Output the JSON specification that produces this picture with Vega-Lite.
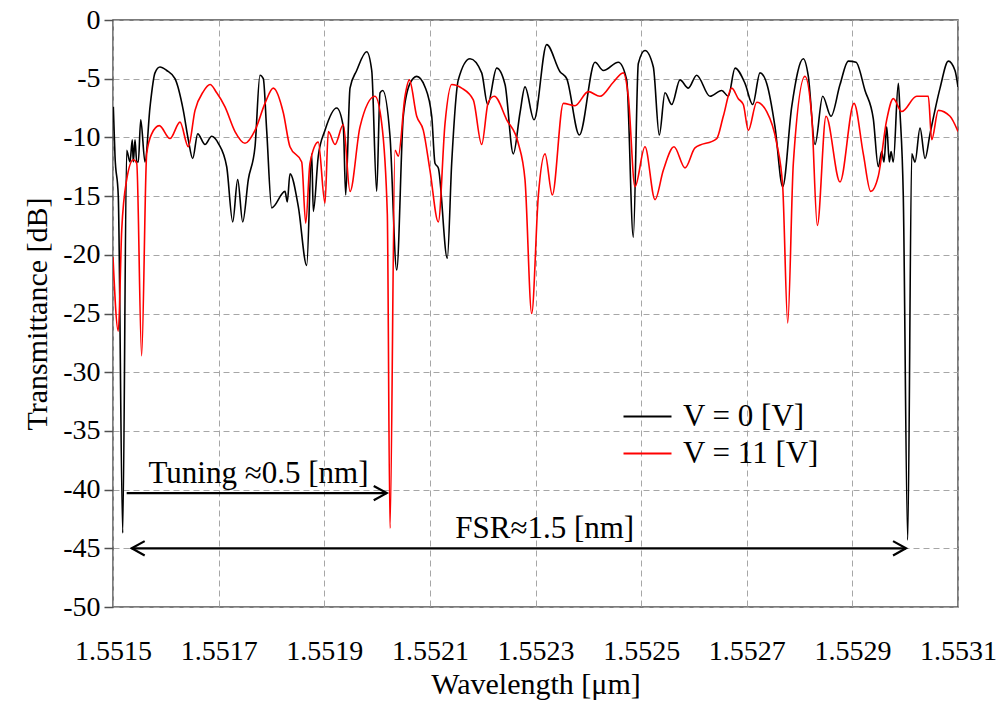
{
  "$schema": "https://vega.github.io/schema/vega-lite/v6.json",
  "width": 845,
  "height": 587,
  "autosize": {"type": "none"},
  "padding": {"left": 113, "top": 20, "right": 44, "bottom": 102},
  "background": "#ffffff",
  "config": {
    "font": "Times New Roman, Liberation Serif, serif",
    "view": {"stroke": "#505050", "strokeWidth": 1.5},
    "axis": {
      "labelFont": "Times New Roman, Liberation Serif, serif",
      "titleFont": "Times New Roman, Liberation Serif, serif",
      "labelColor": "#000000",
      "titleColor": "#000000",
      "titleFontWeight": "normal",
      "gridColor": "#a6a6a6",
      "gridDash": [6, 4],
      "gridWidth": 1,
      "domainColor": "#505050",
      "domainWidth": 1.5,
      "tickColor": "#505050"
    },
    "legend": {"labelFont": "Times New Roman, Liberation Serif, serif"},
    "text": {"font": "Times New Roman, Liberation Serif, serif"}
  },
  "datasets": {
    "spectra": [
      {"w": 1.5515006, "db": -7.4, "s": "V = 0 [V]"},
      {"w": 1.5515038, "db": -11.6, "s": "V = 0 [V]"},
      {"w": 1.55151, "db": -15.0, "s": "V = 0 [V]"},
      {"w": 1.5515184, "db": -43.7, "s": "V = 0 [V]"},
      {"w": 1.5515259, "db": -11.1, "s": "V = 0 [V]"},
      {"w": 1.5515322, "db": -12.1, "s": "V = 0 [V]"},
      {"w": 1.5515365, "db": -10.2, "s": "V = 0 [V]"},
      {"w": 1.5515384, "db": -12.1, "s": "V = 0 [V]"},
      {"w": 1.5515417, "db": -10.2, "s": "V = 0 [V]"},
      {"w": 1.5515449, "db": -12.1, "s": "V = 0 [V]"},
      {"w": 1.5515479, "db": -12.1, "s": "V = 0 [V]"},
      {"w": 1.5515525, "db": -8.5, "s": "V = 0 [V]"},
      {"w": 1.5515606, "db": -12.1, "s": "V = 0 [V]"},
      {"w": 1.5515701, "db": -7.4, "s": "V = 0 [V]"},
      {"w": 1.5515795, "db": -4.5, "s": "V = 0 [V]"},
      {"w": 1.551589, "db": -4.0, "s": "V = 0 [V]"},
      {"w": 1.5516017, "db": -4.3, "s": "V = 0 [V]"},
      {"w": 1.5516174, "db": -5.0, "s": "V = 0 [V]"},
      {"w": 1.5516331, "db": -7.7, "s": "V = 0 [V]"},
      {"w": 1.5516426, "db": -10.2, "s": "V = 0 [V]"},
      {"w": 1.5516509, "db": -11.8, "s": "V = 0 [V]"},
      {"w": 1.5516604, "db": -9.7, "s": "V = 0 [V]"},
      {"w": 1.5516742, "db": -10.6, "s": "V = 0 [V]"},
      {"w": 1.5516869, "db": -9.9, "s": "V = 0 [V]"},
      {"w": 1.5516994, "db": -10.5, "s": "V = 0 [V]"},
      {"w": 1.5517153, "db": -12.5, "s": "V = 0 [V]"},
      {"w": 1.5517267, "db": -17.2, "s": "V = 0 [V]"},
      {"w": 1.5517361, "db": -13.6, "s": "V = 0 [V]"},
      {"w": 1.5517456, "db": -17.2, "s": "V = 0 [V]"},
      {"w": 1.5517562, "db": -13.6, "s": "V = 0 [V]"},
      {"w": 1.5517689, "db": -10.8, "s": "V = 0 [V]"},
      {"w": 1.5517783, "db": -4.7, "s": "V = 0 [V]"},
      {"w": 1.5517846, "db": -5.0, "s": "V = 0 [V]"},
      {"w": 1.551791, "db": -9.4, "s": "V = 0 [V]"},
      {"w": 1.5518005, "db": -16.0, "s": "V = 0 [V]"},
      {"w": 1.5518257, "db": -14.6, "s": "V = 0 [V]"},
      {"w": 1.55183, "db": -15.5, "s": "V = 0 [V]"},
      {"w": 1.5518351, "db": -13.1, "s": "V = 0 [V]"},
      {"w": 1.5518509, "db": -15.9, "s": "V = 0 [V]"},
      {"w": 1.5518668, "db": -20.9, "s": "V = 0 [V]"},
      {"w": 1.5518762, "db": -11.4, "s": "V = 0 [V]"},
      {"w": 1.5518793, "db": -16.3, "s": "V = 0 [V]"},
      {"w": 1.5518887, "db": -11.6, "s": "V = 0 [V]"},
      {"w": 1.5519014, "db": -9.4, "s": "V = 0 [V]"},
      {"w": 1.5519236, "db": -7.5, "s": "V = 0 [V]"},
      {"w": 1.5519361, "db": -9.1, "s": "V = 0 [V]"},
      {"w": 1.5519406, "db": -14.9, "s": "V = 0 [V]"},
      {"w": 1.5519488, "db": -5.8, "s": "V = 0 [V]"},
      {"w": 1.5519614, "db": -4.3, "s": "V = 0 [V]"},
      {"w": 1.5519804, "db": -2.7, "s": "V = 0 [V]"},
      {"w": 1.5519899, "db": -4.3, "s": "V = 0 [V]"},
      {"w": 1.5519993, "db": -14.6, "s": "V = 0 [V]"},
      {"w": 1.5520056, "db": -6.2, "s": "V = 0 [V]"},
      {"w": 1.5520107, "db": -6.0, "s": "V = 0 [V]"},
      {"w": 1.5520245, "db": -9.9, "s": "V = 0 [V]"},
      {"w": 1.5520372, "db": -21.3, "s": "V = 0 [V]"},
      {"w": 1.5520497, "db": -8.2, "s": "V = 0 [V]"},
      {"w": 1.5520624, "db": -5.4, "s": "V = 0 [V]"},
      {"w": 1.5520751, "db": -4.8, "s": "V = 0 [V]"},
      {"w": 1.5520908, "db": -5.7, "s": "V = 0 [V]"},
      {"w": 1.5521035, "db": -8.2, "s": "V = 0 [V]"},
      {"w": 1.5521097, "db": -12.2, "s": "V = 0 [V]"},
      {"w": 1.552116, "db": -12.6, "s": "V = 0 [V]"},
      {"w": 1.552133, "db": -20.3, "s": "V = 0 [V]"},
      {"w": 1.5521413, "db": -12.2, "s": "V = 0 [V]"},
      {"w": 1.5521538, "db": -5.1, "s": "V = 0 [V]"},
      {"w": 1.552176, "db": -3.3, "s": "V = 0 [V]"},
      {"w": 1.5521981, "db": -4.5, "s": "V = 0 [V]"},
      {"w": 1.5522095, "db": -7.2, "s": "V = 0 [V]"},
      {"w": 1.5522265, "db": -4.1, "s": "V = 0 [V]"},
      {"w": 1.5522423, "db": -5.5, "s": "V = 0 [V]"},
      {"w": 1.552258, "db": -11.4, "s": "V = 0 [V]"},
      {"w": 1.5522707, "db": -7.9, "s": "V = 0 [V]"},
      {"w": 1.5522801, "db": -5.7, "s": "V = 0 [V]"},
      {"w": 1.5522972, "db": -8.5, "s": "V = 0 [V]"},
      {"w": 1.5523212, "db": -2.1, "s": "V = 0 [V]"},
      {"w": 1.5523464, "db": -4.4, "s": "V = 0 [V]"},
      {"w": 1.5523591, "db": -5.0, "s": "V = 0 [V]"},
      {"w": 1.552383, "db": -9.8, "s": "V = 0 [V]"},
      {"w": 1.5524127, "db": -3.6, "s": "V = 0 [V]"},
      {"w": 1.5524284, "db": -4.3, "s": "V = 0 [V]"},
      {"w": 1.5524568, "db": -3.6, "s": "V = 0 [V]"},
      {"w": 1.5524727, "db": -5.1, "s": "V = 0 [V]"},
      {"w": 1.5524852, "db": -18.5, "s": "V = 0 [V]"},
      {"w": 1.5524947, "db": -3.7, "s": "V = 0 [V]"},
      {"w": 1.5525073, "db": -2.6, "s": "V = 0 [V]"},
      {"w": 1.5525231, "db": -4.0, "s": "V = 0 [V]"},
      {"w": 1.5525344, "db": -9.8, "s": "V = 0 [V]"},
      {"w": 1.5525452, "db": -6.2, "s": "V = 0 [V]"},
      {"w": 1.5525579, "db": -7.2, "s": "V = 0 [V]"},
      {"w": 1.5525736, "db": -5.1, "s": "V = 0 [V]"},
      {"w": 1.5525893, "db": -5.8, "s": "V = 0 [V]"},
      {"w": 1.5526052, "db": -4.7, "s": "V = 0 [V]"},
      {"w": 1.5526304, "db": -6.5, "s": "V = 0 [V]"},
      {"w": 1.5526526, "db": -6.0, "s": "V = 0 [V]"},
      {"w": 1.5526651, "db": -6.5, "s": "V = 0 [V]"},
      {"w": 1.5526778, "db": -4.1, "s": "V = 0 [V]"},
      {"w": 1.5526967, "db": -5.4, "s": "V = 0 [V]"},
      {"w": 1.5527113, "db": -7.2, "s": "V = 0 [V]"},
      {"w": 1.5527251, "db": -4.5, "s": "V = 0 [V]"},
      {"w": 1.5527378, "db": -5.4, "s": "V = 0 [V]"},
      {"w": 1.5527535, "db": -9.1, "s": "V = 0 [V]"},
      {"w": 1.5527681, "db": -14.2, "s": "V = 0 [V]"},
      {"w": 1.5527851, "db": -7.4, "s": "V = 0 [V]"},
      {"w": 1.5528071, "db": -3.3, "s": "V = 0 [V]"},
      {"w": 1.5528166, "db": -4.8, "s": "V = 0 [V]"},
      {"w": 1.5528293, "db": -10.6, "s": "V = 0 [V]"},
      {"w": 1.5528438, "db": -6.5, "s": "V = 0 [V]"},
      {"w": 1.5528595, "db": -8.2, "s": "V = 0 [V]"},
      {"w": 1.5528766, "db": -5.5, "s": "V = 0 [V]"},
      {"w": 1.5528923, "db": -3.5, "s": "V = 0 [V]"},
      {"w": 1.5529069, "db": -3.6, "s": "V = 0 [V]"},
      {"w": 1.5529239, "db": -6.0, "s": "V = 0 [V]"},
      {"w": 1.5529396, "db": -8.4, "s": "V = 0 [V]"},
      {"w": 1.5529491, "db": -12.5, "s": "V = 0 [V]"},
      {"w": 1.5529556, "db": -11.2, "s": "V = 0 [V]"},
      {"w": 1.5529599, "db": -12.1, "s": "V = 0 [V]"},
      {"w": 1.552965, "db": -9.1, "s": "V = 0 [V]"},
      {"w": 1.55297, "db": -12.1, "s": "V = 0 [V]"},
      {"w": 1.5529732, "db": -11.2, "s": "V = 0 [V]"},
      {"w": 1.5529775, "db": -12.1, "s": "V = 0 [V]"},
      {"w": 1.552987, "db": -5.4, "s": "V = 0 [V]"},
      {"w": 1.5529902, "db": -7.9, "s": "V = 0 [V]"},
      {"w": 1.5529964, "db": -15.0, "s": "V = 0 [V]"},
      {"w": 1.5530048, "db": -44.3, "s": "V = 0 [V]"},
      {"w": 1.5530124, "db": -11.4, "s": "V = 0 [V]"},
      {"w": 1.5530186, "db": -12.1, "s": "V = 0 [V]"},
      {"w": 1.5530281, "db": -9.2, "s": "V = 0 [V]"},
      {"w": 1.5530376, "db": -11.8, "s": "V = 0 [V]"},
      {"w": 1.553047, "db": -9.7, "s": "V = 0 [V]"},
      {"w": 1.553066, "db": -5.8, "s": "V = 0 [V]"},
      {"w": 1.5530817, "db": -3.5, "s": "V = 0 [V]"},
      {"w": 1.5530943, "db": -4.3, "s": "V = 0 [V]"},
      {"w": 1.5531, "db": -5.7, "s": "V = 0 [V]"},

      {"w": 1.5515, "db": -20.2, "s": "V = 11 [V]"},
      {"w": 1.55151, "db": -26.5, "s": "V = 11 [V]"},
      {"w": 1.5515165, "db": -17.9, "s": "V = 11 [V]"},
      {"w": 1.5515259, "db": -13.6, "s": "V = 11 [V]"},
      {"w": 1.5515384, "db": -11.9, "s": "V = 11 [V]"},
      {"w": 1.5515449, "db": -12.2, "s": "V = 11 [V]"},
      {"w": 1.5515542, "db": -28.6, "s": "V = 11 [V]"},
      {"w": 1.5515638, "db": -11.4, "s": "V = 11 [V]"},
      {"w": 1.5515733, "db": -9.7, "s": "V = 11 [V]"},
      {"w": 1.5515877, "db": -9.0, "s": "V = 11 [V]"},
      {"w": 1.5516079, "db": -10.1, "s": "V = 11 [V]"},
      {"w": 1.5516269, "db": -8.7, "s": "V = 11 [V]"},
      {"w": 1.5516426, "db": -10.8, "s": "V = 11 [V]"},
      {"w": 1.5516553, "db": -7.7, "s": "V = 11 [V]"},
      {"w": 1.551671, "db": -6.1, "s": "V = 11 [V]"},
      {"w": 1.5516837, "db": -5.5, "s": "V = 11 [V]"},
      {"w": 1.5516964, "db": -6.2, "s": "V = 11 [V]"},
      {"w": 1.5517121, "db": -7.4, "s": "V = 11 [V]"},
      {"w": 1.551731, "db": -9.5, "s": "V = 11 [V]"},
      {"w": 1.5517499, "db": -10.5, "s": "V = 11 [V]"},
      {"w": 1.5517689, "db": -9.4, "s": "V = 11 [V]"},
      {"w": 1.5517878, "db": -7.1, "s": "V = 11 [V]"},
      {"w": 1.5518035, "db": -5.8, "s": "V = 11 [V]"},
      {"w": 1.5518225, "db": -7.9, "s": "V = 11 [V]"},
      {"w": 1.5518351, "db": -10.8, "s": "V = 11 [V]"},
      {"w": 1.5518573, "db": -12.1, "s": "V = 11 [V]"},
      {"w": 1.5518649, "db": -17.3, "s": "V = 11 [V]"},
      {"w": 1.551873, "db": -12.2, "s": "V = 11 [V]"},
      {"w": 1.5518887, "db": -10.4, "s": "V = 11 [V]"},
      {"w": 1.5519014, "db": -15.6, "s": "V = 11 [V]"},
      {"w": 1.5519077, "db": -9.5, "s": "V = 11 [V]"},
      {"w": 1.5519204, "db": -10.6, "s": "V = 11 [V]"},
      {"w": 1.5519361, "db": -8.9, "s": "V = 11 [V]"},
      {"w": 1.5519488, "db": -14.6, "s": "V = 11 [V]"},
      {"w": 1.5519677, "db": -9.1, "s": "V = 11 [V]"},
      {"w": 1.5519961, "db": -6.5, "s": "V = 11 [V]"},
      {"w": 1.5520088, "db": -8.8, "s": "V = 11 [V]"},
      {"w": 1.5520194, "db": -16.5, "s": "V = 11 [V]"},
      {"w": 1.5520245, "db": -43.3, "s": "V = 11 [V]"},
      {"w": 1.552034, "db": -11.1, "s": "V = 11 [V]"},
      {"w": 1.5520402, "db": -11.6, "s": "V = 11 [V]"},
      {"w": 1.5520529, "db": -6.5, "s": "V = 11 [V]"},
      {"w": 1.5520611, "db": -5.1, "s": "V = 11 [V]"},
      {"w": 1.5520751, "db": -8.2, "s": "V = 11 [V]"},
      {"w": 1.5520876, "db": -9.4, "s": "V = 11 [V]"},
      {"w": 1.5521002, "db": -12.8, "s": "V = 11 [V]"},
      {"w": 1.552116, "db": -17.2, "s": "V = 11 [V]"},
      {"w": 1.5521287, "db": -8.8, "s": "V = 11 [V]"},
      {"w": 1.5521413, "db": -5.5, "s": "V = 11 [V]"},
      {"w": 1.5521603, "db": -5.8, "s": "V = 11 [V]"},
      {"w": 1.5521822, "db": -6.8, "s": "V = 11 [V]"},
      {"w": 1.5521981, "db": -10.6, "s": "V = 11 [V]"},
      {"w": 1.5522106, "db": -7.0, "s": "V = 11 [V]"},
      {"w": 1.552222, "db": -6.5, "s": "V = 11 [V]"},
      {"w": 1.5522455, "db": -8.5, "s": "V = 11 [V]"},
      {"w": 1.5522674, "db": -10.5, "s": "V = 11 [V]"},
      {"w": 1.5522801, "db": -13.6, "s": "V = 11 [V]"},
      {"w": 1.5522928, "db": -25.0, "s": "V = 11 [V]"},
      {"w": 1.5523053, "db": -15.0, "s": "V = 11 [V]"},
      {"w": 1.552318, "db": -11.4, "s": "V = 11 [V]"},
      {"w": 1.5523318, "db": -14.9, "s": "V = 11 [V]"},
      {"w": 1.5523527, "db": -7.1, "s": "V = 11 [V]"},
      {"w": 1.5523748, "db": -7.3, "s": "V = 11 [V]"},
      {"w": 1.5524, "db": -6.1, "s": "V = 11 [V]"},
      {"w": 1.5524221, "db": -6.5, "s": "V = 11 [V]"},
      {"w": 1.5524473, "db": -5.3, "s": "V = 11 [V]"},
      {"w": 1.5524663, "db": -4.5, "s": "V = 11 [V]"},
      {"w": 1.5524757, "db": -6.5, "s": "V = 11 [V]"},
      {"w": 1.5524884, "db": -14.2, "s": "V = 11 [V]"},
      {"w": 1.5525073, "db": -10.8, "s": "V = 11 [V]"},
      {"w": 1.5525263, "db": -15.3, "s": "V = 11 [V]"},
      {"w": 1.552542, "db": -12.8, "s": "V = 11 [V]"},
      {"w": 1.5525623, "db": -10.8, "s": "V = 11 [V]"},
      {"w": 1.5525831, "db": -12.6, "s": "V = 11 [V]"},
      {"w": 1.552602, "db": -10.9, "s": "V = 11 [V]"},
      {"w": 1.5526431, "db": -10.1, "s": "V = 11 [V]"},
      {"w": 1.5526556, "db": -8.2, "s": "V = 11 [V]"},
      {"w": 1.5526715, "db": -5.8, "s": "V = 11 [V]"},
      {"w": 1.552684, "db": -6.7, "s": "V = 11 [V]"},
      {"w": 1.5526935, "db": -7.2, "s": "V = 11 [V]"},
      {"w": 1.552703, "db": -9.4, "s": "V = 11 [V]"},
      {"w": 1.5527189, "db": -7.0, "s": "V = 11 [V]"},
      {"w": 1.5527378, "db": -7.8, "s": "V = 11 [V]"},
      {"w": 1.5527567, "db": -10.5, "s": "V = 11 [V]"},
      {"w": 1.5527681, "db": -14.2, "s": "V = 11 [V]"},
      {"w": 1.5527776, "db": -25.8, "s": "V = 11 [V]"},
      {"w": 1.5527882, "db": -12.2, "s": "V = 11 [V]"},
      {"w": 1.5528103, "db": -4.8, "s": "V = 11 [V]"},
      {"w": 1.552823, "db": -8.2, "s": "V = 11 [V]"},
      {"w": 1.5528336, "db": -17.5, "s": "V = 11 [V]"},
      {"w": 1.5528501, "db": -8.2, "s": "V = 11 [V]"},
      {"w": 1.5528766, "db": -13.8, "s": "V = 11 [V]"},
      {"w": 1.5529031, "db": -7.1, "s": "V = 11 [V]"},
      {"w": 1.5529207, "db": -11.4, "s": "V = 11 [V]"},
      {"w": 1.5529347, "db": -14.6, "s": "V = 11 [V]"},
      {"w": 1.5529491, "db": -13.3, "s": "V = 11 [V]"},
      {"w": 1.552965, "db": -8.5, "s": "V = 11 [V]"},
      {"w": 1.5529775, "db": -6.7, "s": "V = 11 [V]"},
      {"w": 1.5529934, "db": -7.8, "s": "V = 11 [V]"},
      {"w": 1.5530218, "db": -6.5, "s": "V = 11 [V]"},
      {"w": 1.5530438, "db": -6.5, "s": "V = 11 [V]"},
      {"w": 1.5530502, "db": -10.2, "s": "V = 11 [V]"},
      {"w": 1.5530627, "db": -7.7, "s": "V = 11 [V]"},
      {"w": 1.5530849, "db": -8.2, "s": "V = 11 [V]"},
      {"w": 1.5531, "db": -9.5, "s": "V = 11 [V]"}
    ],
    "arrows": [
      {"x1": 1.5515259, "x2": 1.5520183, "db": -40.3},
      {"x1": 1.5515354, "x2": 1.5530016, "db": -45.0}
    ],
    "heads": [
      {"w": 1.5520183, "db": -40.3, "dir": "right"},
      {"w": 1.5515354, "db": -45.0, "dir": "left"},
      {"w": 1.5530016, "db": -45.0, "dir": "right"}
    ],
    "notes": [
      {"w": 1.5517755, "db": -39.46, "label": "Tuning ≈0.5 [nm]"},
      {"w": 1.5523174, "db": -44.15, "label": "FSR≈1.5 [nm]"}
    ]
  },
  "layer": [
    {
      "data": {"name": "spectra"},
      "mark": {"type": "line", "strokeWidth": 1.6, "interpolate": "monotone", "clip": true},
      "encoding": {
        "x": {
          "field": "w",
          "type": "quantitative",
          "scale": {"domain": [1.5515, 1.5531], "nice": false, "zero": false},
          "axis": {
            "title": "Wavelength [μm]",
            "titleFontSize": 30,
            "titlePadding": 4,
            "labelFontSize": 28,
            "labelPadding": 30,
            "ticks": false,
            "tickSize": 0,
            "domain": false,
            "values": [1.5515, 1.5517, 1.5519, 1.5521, 1.5523, 1.5525, 1.5527, 1.5529, 1.5531],
            "format": ".4f",
            "labelFlush": false,
            "labelOverlap": false
          }
        },
        "y": {
          "field": "db",
          "type": "quantitative",
          "scale": {"domain": [-50, 0], "nice": false, "zero": false},
          "axis": {
            "title": "Transmittance [dB]",
            "titleFontSize": 30,
            "titlePadding": 10,
            "labelFontSize": 28,
            "labelPadding": 4,
            "tickSize": 9,
            "tickWidth": 1.5,
            "domain": false,
            "values": [-50, -45, -40, -35, -30, -25, -20, -15, -10, -5, 0],
            "labelExpr": "datum.value < 0 ? '-' + abs(datum.value) : '' + datum.value",
            "labelFlush": false,
            "labelOverlap": false
          }
        },
        "color": {
          "field": "s",
          "type": "nominal",
          "scale": {"domain": ["V = 0 [V]", "V = 11 [V]"], "range": ["#000000", "#ff0000"]},
          "legend": {
            "title": null,
            "orient": "none",
            "legendX": 519,
            "legendY": 381,
            "symbolType": "M-2,0L2,0",
            "symbolSize": 576,
            "symbolStrokeWidth": 2,
            "labelFont": "Times New Roman, Liberation Serif, serif",
            "labelFontSize": 31,
            "labelColor": "#000000",
            "labelOffset": 20,
            "rowPadding": 5,
            "padding": 0,
            "fillColor": null,
            "strokeColor": null
          }
        }
      }
    },
    {
      "data": {"name": "arrows"},
      "mark": {"type": "rule", "color": "#000000", "strokeWidth": 2.2},
      "encoding": {
        "x": {"field": "x1", "type": "quantitative"},
        "x2": {"field": "x2"},
        "y": {"field": "db", "type": "quantitative"}
      }
    },
    {
      "data": {"name": "heads"},
      "mark": {"type": "point", "filled": false, "stroke": "#000000", "strokeWidth": 2.2, "size": 676, "opacity": 1},
      "encoding": {
        "x": {"field": "w", "type": "quantitative"},
        "y": {"field": "db", "type": "quantitative"},
        "shape": {
          "field": "dir",
          "type": "nominal",
          "scale": {"domain": ["right", "left"], "range": ["M-1,-0.55L0,0L-1,0.55", "M1,-0.55L0,0L1,0.55"]},
          "legend": null
        }
      }
    },
    {
      "data": {"name": "notes"},
      "mark": {"type": "text", "font": "Times New Roman, Liberation Serif, serif", "fontSize": 31, "align": "center", "baseline": "alphabetic", "color": "#000000"},
      "encoding": {
        "x": {"field": "w", "type": "quantitative"},
        "y": {"field": "db", "type": "quantitative"},
        "text": {"field": "label"}
      }
    }
  ]
}
